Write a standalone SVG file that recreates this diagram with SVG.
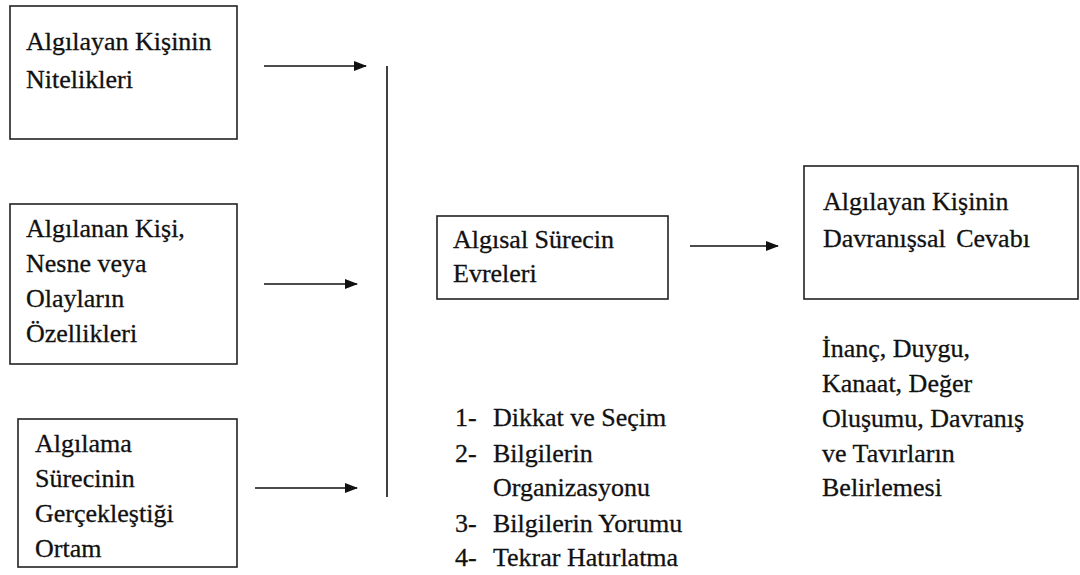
<svg xmlns="http://www.w3.org/2000/svg" width="1080" height="575" viewBox="0 0 1080 575">
<style>
.box{fill:#fff;stroke:#222;stroke-width:1.6}
.t{font-family:"Liberation Serif","Times New Roman",serif;font-size:26px;fill:#111;stroke:#111;stroke-width:0.3}
.ln{stroke:#111;stroke-width:1.6;fill:none}
</style>
<defs>
<marker id="ah" markerUnits="userSpaceOnUse" markerWidth="13" markerHeight="10" refX="12" refY="5" orient="auto">
<path d="M0,0 L13,5 L0,10 z" fill="#111"/>
</marker>
</defs>
<rect width="1080" height="575" fill="#fff"/>
<g id="node-nitelikler">
<rect class="box" x="10" y="6" width="227" height="133"/>
<text class="t" x="26" y="50">Algılayan Kişinin</text>
<text class="t" x="26" y="88">Nitelikleri</text>
</g>
<g id="node-ozellikler">
<rect class="box" x="10" y="204" width="227" height="160"/>
<text class="t" x="26" y="237">Algılanan Kişi,</text>
<text class="t" x="26" y="272">Nesne veya</text>
<text class="t" x="26" y="307">Olayların</text>
<text class="t" x="26" y="342">Özellikleri</text>
</g>
<g id="node-ortam">
<rect class="box" x="18" y="419" width="219" height="148"/>
<text class="t" x="35" y="452">Algılama</text>
<text class="t" x="35" y="487">Sürecinin</text>
<text class="t" x="35" y="522">Gerçekleştiği</text>
<text class="t" x="35" y="557">Ortam</text>
</g>
<g id="node-evreler">
<rect class="box" x="437" y="216" width="231" height="83"/>
<text class="t" x="453" y="248">Algısal Sürecin</text>
<text class="t" x="453" y="282">Evreleri</text>
</g>
<g id="node-cevap">
<rect class="box" x="804" y="166" width="274" height="133"/>
<text class="t" x="823" y="210">Algılayan Kişinin</text>
<text class="t" x="823" y="247" word-spacing="4">Davranışsal Cevabı</text>
</g>
<g id="list-evreler">
<text class="t" x="455" y="426">1-</text><text class="t" x="493" y="426">Dikkat ve Seçim</text>
<text class="t" x="455" y="462">2-</text><text class="t" x="493" y="462">Bilgilerin</text>
<text class="t" x="493" y="496">Organizasyonu</text>
<text class="t" x="455" y="532">3-</text><text class="t" x="493" y="532">Bilgilerin Yorumu</text>
<text class="t" x="455" y="566">4-</text><text class="t" x="493" y="566">Tekrar Hatırlatma</text>
</g>
<g id="list-sonuc">
<text class="t" x="822" y="357">İnanç, Duygu,</text>
<text class="t" x="822" y="392">Kanaat, Değer</text>
<text class="t" x="822" y="427">Oluşumu, Davranış</text>
<text class="t" x="822" y="462">ve Tavırların</text>
<text class="t" x="822" y="496">Belirlemesi</text>
</g>
<g id="connectors">
<line class="ln" x1="264" y1="66" x2="366" y2="66" marker-end="url(#ah)"/>
<line class="ln" x1="264" y1="284" x2="357" y2="284" marker-end="url(#ah)"/>
<line class="ln" x1="255" y1="488" x2="357" y2="488" marker-end="url(#ah)"/>
<line class="ln" x1="387" y1="66" x2="387" y2="497"/>
<line class="ln" x1="690" y1="246" x2="778" y2="246" marker-end="url(#ah)"/>
</g>
</svg>
